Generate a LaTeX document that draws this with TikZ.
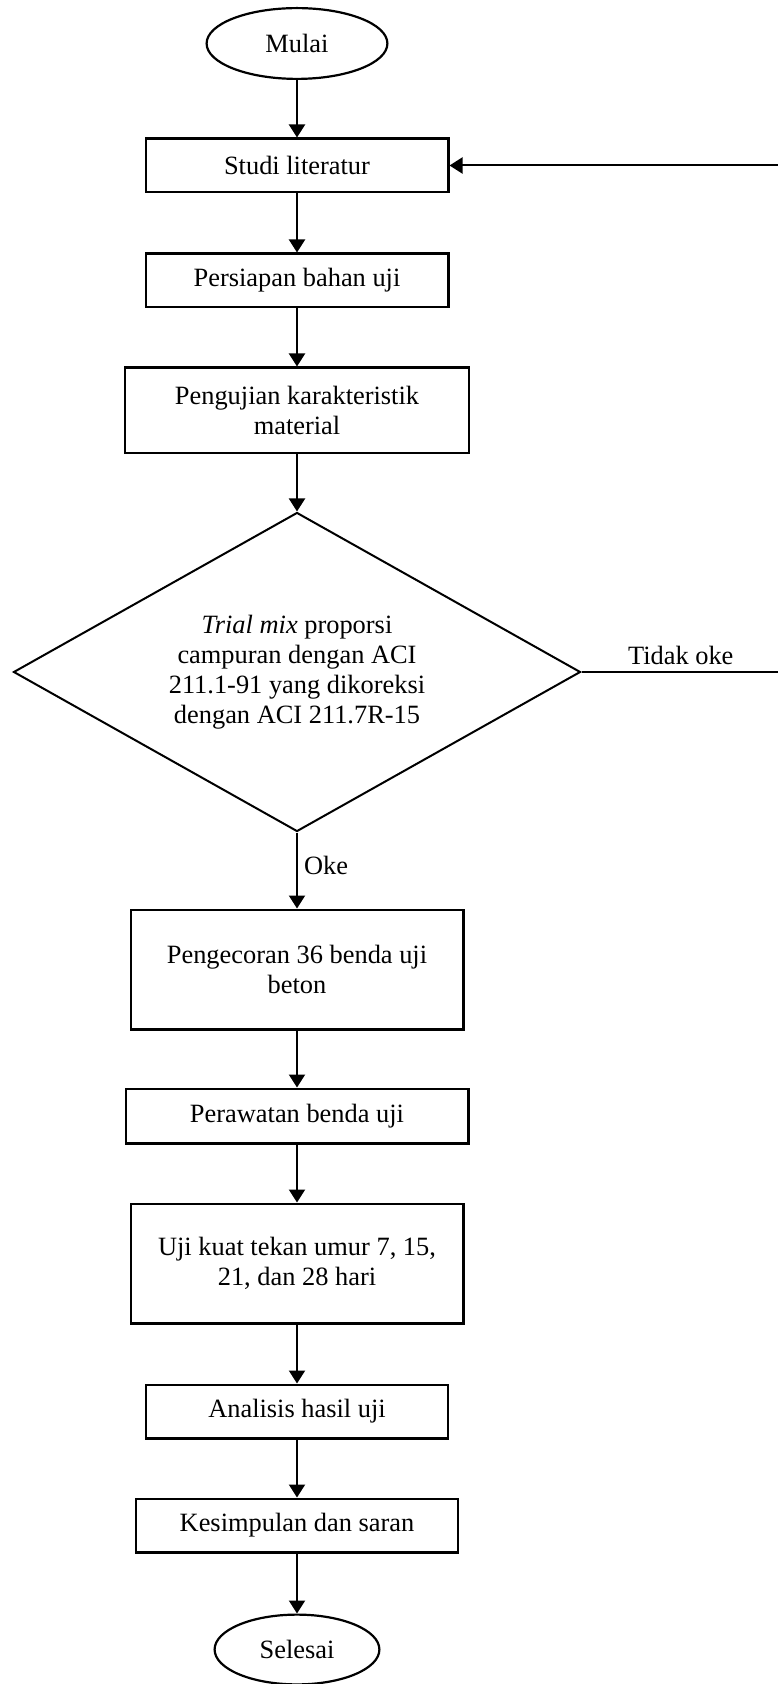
\documentclass[tikz,border=0pt]{standalone}
\usepackage{fontspec}
\setmainfont{Liberation Serif}
\usepackage{tikz}
\usetikzlibrary{shapes,arrows.meta}
\usetikzlibrary{positioning}
\tikzstyle{process} = [draw, rectangle, line width=1.2pt, align=center,
minimum width=151.3pt, minimum height=26.8pt]
\tikzstyle{terminal} = [draw, ellipse, line width=1.1pt, minimum width=90.4pt,
minimum height=35.4pt]
\tikzstyle{line} = [draw, line width=1pt, -{Triangle[length=6.5pt,width=8pt]}]

\begin{document}
\begin{tikzpicture}[font=\fontsize{13.2}{15}\selectfont, node distance=29pt,
	decision/.style={draw, diamond, aspect=1.78, line width=1pt, align=center,
		inner sep=0pt, minimum width=283.5pt, minimum height=159.5pt}]
	\useasboundingbox (0,0) rectangle (388.5pt,-842pt);
	\node[terminal] (mulai) at (148.5pt,-21.75pt) {Mulai};
	\node[process, below=28.75pt of mulai] (studi) {Studi literatur};
	\node[process, below=29.5pt of studi] (persiapan) {Persiapan bahan uji};
	\node[process, below=of persiapan, minimum width=171.8pt, minimum height=42.8pt] (pengujian) {Pengujian karakteristik\\material};
	\node[decision, below=28.5pt of pengujian] (trial) {\textit{Trial mix} proporsi\\campuran dengan ACI\\211.1-91 yang dikoreksi\\dengan ACI 211.7R-15};
	\node[process, below=38pt of trial, minimum width=166.3pt, minimum height=59.8pt] (pengecoran) {Pengecoran 36 benda uji\\beton};
	\node[process, below=28.5pt of pengecoran, minimum width=171.3pt, minimum height=27.3pt] (perawatan) {Perawatan benda uji};
	\node[process, below=of perawatan, minimum width=166.3pt, minimum height=59.8pt] (ujikuat) {Uji kuat tekan umur 7, 15,\\21, dan 28 hari};
	\node[process, below=29.5pt of ujikuat, minimum width=150.8pt] (analisis) {Analisis hasil uji};
	\node[process, below=of analisis, minimum width=160.8pt] (kesimpulan) {Kesimpulan dan saran};
	\node[terminal, below=30pt of kesimpulan, minimum width=82.4pt, minimum height=34.9pt] (selesai) {Selesai};
	\coordinate (balik) at (390pt,0);
	%% Flows
	\path[line] (mulai) -- (studi);
	\path[line] (studi) -- (persiapan);
	\path[line] (persiapan) -- (pengujian);
	\path[line] (pengujian) -- (trial);
	\path[line] (trial) -- node[pos=0.43, right, inner sep=3pt] {Oke} (pengecoran);
	\path[line] (pengecoran) -- (perawatan);
	\path[line] (perawatan) -- (ujikuat);
	\path[line] (ujikuat) -- (analisis);
	\path[line] (analisis) -- (kesimpulan);
	\path[line] (kesimpulan) -- (selesai);
	\path[line] (trial.east) -- node[above] {Tidak oke} (trial.east -| balik)
		-- (studi.east -| balik) -- (studi.east);
\end{tikzpicture}
\end{document}
